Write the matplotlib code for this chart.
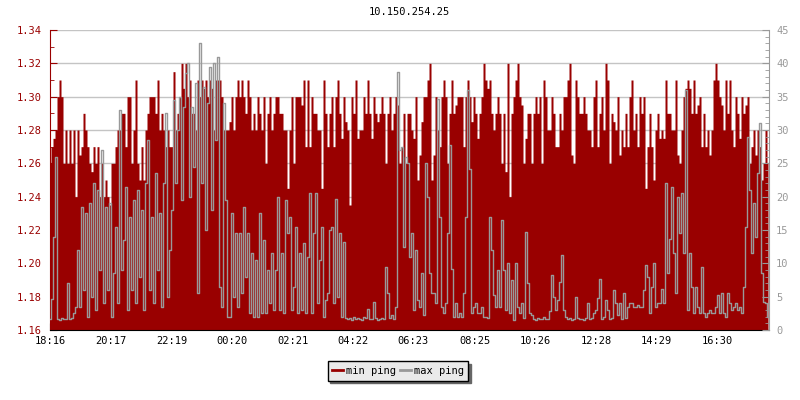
import matplotlib.pyplot as plt
from matplotlib.lines import Line2D
from matplotlib.ticker import MultipleLocator, FormatStrFormatter

RED = '#990000'
GREY = '#999999'
FONT = 'DejaVu Sans Mono'

title = '10.150.254.25'
start_time = '18:16'
step_minutes = 4
tick_labels = ['18:16', '20:17', '22:19', '00:20', '02:21', '04:22',
               '06:23', '08:25', '10:26', '12:28', '14:29', '16:30']
series_names = ['min ping', 'max ping']

# min ping (left axis), one sample every 4 minutes
min_ping = [
    1.26, 1.27, 1.275, 1.28, 1.30, 1.31, 1.30, 1.26, 1.28, 1.26,
    1.28, 1.26, 1.28, 1.24, 1.28, 1.265, 1.27, 1.29, 1.28, 1.27,
    1.26, 1.255, 1.27, 1.26, 1.27, 1.24, 1.26, 1.24, 1.25, 1.24,
    1.235, 1.26, 1.26, 1.27, 1.28, 1.28, 1.29, 1.29, 1.27, 1.30,
    1.30, 1.26, 1.28, 1.31, 1.26, 1.25, 1.27, 1.25, 1.28, 1.29,
    1.30, 1.30, 1.30, 1.29, 1.31, 1.28, 1.29, 1.28, 1.27, 1.28,
    1.27, 1.27, 1.315, 1.28, 1.29, 1.30, 1.32, 1.305, 1.32, 1.30,
    1.31, 1.29, 1.29, 1.28, 1.31, 1.30, 1.31, 1.305, 1.31, 1.30,
    1.31, 1.305, 1.28, 1.31, 1.31, 1.31, 1.30, 1.28, 1.28, 1.28,
    1.285, 1.30, 1.28, 1.30, 1.31, 1.30, 1.31, 1.30, 1.29, 1.31,
    1.30, 1.28, 1.29, 1.28, 1.30, 1.29, 1.28, 1.30, 1.26, 1.29,
    1.30, 1.28, 1.29, 1.30, 1.30, 1.29, 1.29, 1.28, 1.28, 1.245,
    1.28, 1.30, 1.26, 1.30, 1.30, 1.30, 1.295, 1.31, 1.27, 1.31,
    1.27, 1.30, 1.29, 1.29, 1.28, 1.28, 1.245, 1.31, 1.29, 1.27,
    1.29, 1.30, 1.27, 1.30, 1.31, 1.29, 1.275, 1.30, 1.285, 1.28,
    1.235, 1.30, 1.29, 1.31, 1.275, 1.28, 1.28, 1.30, 1.29, 1.31,
    1.29, 1.275, 1.30, 1.29, 1.285, 1.29, 1.30, 1.29, 1.26, 1.29,
    1.30, 1.28, 1.29, 1.30, 1.295, 1.26, 1.27, 1.29, 1.26, 1.29,
    1.29, 1.28, 1.275, 1.30, 1.25, 1.265, 1.285, 1.30, 1.30, 1.31,
    1.32, 1.25, 1.265, 1.30, 1.28, 1.27, 1.30, 1.31, 1.30, 1.26,
    1.29, 1.31, 1.29, 1.295, 1.30, 1.30, 1.30, 1.27, 1.30, 1.31,
    1.30, 1.285, 1.30, 1.29, 1.275, 1.29, 1.30, 1.32, 1.31, 1.305,
    1.31, 1.29, 1.28, 1.29, 1.30, 1.29, 1.26, 1.29, 1.255, 1.32,
    1.24, 1.29, 1.30, 1.31, 1.32, 1.30, 1.295, 1.26, 1.275, 1.29,
    1.29, 1.26, 1.29, 1.30, 1.29, 1.30, 1.26, 1.31, 1.30, 1.28,
    1.28, 1.30, 1.29, 1.27, 1.27, 1.29, 1.28, 1.30, 1.30, 1.31,
    1.32, 1.265, 1.26, 1.31, 1.30, 1.29, 1.29, 1.30, 1.29, 1.28,
    1.28, 1.27, 1.30, 1.31, 1.27, 1.29, 1.30, 1.28, 1.32, 1.31,
    1.26, 1.29, 1.285, 1.28, 1.30, 1.265, 1.28, 1.27, 1.29, 1.27,
    1.30, 1.31, 1.28, 1.29, 1.27, 1.30, 1.29, 1.30, 1.245, 1.27,
    1.29, 1.27, 1.25, 1.28, 1.29, 1.275, 1.28, 1.275, 1.31, 1.29,
    1.29, 1.28, 1.28, 1.31, 1.265, 1.26, 1.28, 1.30, 1.305, 1.31,
    1.305, 1.29, 1.31, 1.29, 1.295, 1.30, 1.27, 1.29, 1.27, 1.28,
    1.265, 1.28, 1.31, 1.32, 1.31, 1.30, 1.295, 1.28, 1.31, 1.29,
    1.31, 1.28, 1.27, 1.30, 1.29, 1.275, 1.30, 1.29, 1.295, 1.30,
    1.26, 1.27, 1.28, 1.265, 1.28, 1.27, 1.25, 1.26, 1.28, 1.26,
]

# max ping (right axis)
max_ping = [
    1.7, 4.7, 14, 26, 1.7, 1.5, 1.8, 1.6, 1.7, 7,
    1.6, 1.8, 2.5, 3.5, 12, 3.5, 18.5, 6, 17.5, 2,
    19, 5, 22, 3, 21, 9, 27, 4, 18.5, 6,
    19, 2, 8.5, 15.5, 4, 33, 9, 13.5, 21.5, 3,
    17, 6, 19.5, 4, 21, 8, 18, 3, 22, 28.5,
    6, 17, 4, 23.5, 9, 17.5, 3.5, 22, 32.5, 5,
    12, 18, 34.5, 22, 30, 35, 19.5, 33.5, 38.5, 40,
    20, 33.5, 24.5, 37, 5.5, 43, 22, 36.5, 15, 34,
    39.5, 18, 40, 28.5, 41, 6.5, 3.5, 34, 19.5, 2,
    2, 17.5, 5, 14.5, 3.5, 14.5, 5.5, 18.5, 8, 14.5,
    2.5, 11.5, 2, 10.5, 2, 17.5, 2.5, 13.5, 2.5, 9,
    4, 11.5, 3, 9, 20, 3, 11.5, 2.5, 19.5, 14.5,
    17, 3, 6.5, 15.5, 2.5, 11.5, 3, 13, 2.5, 11,
    20.5, 2.5, 14.5, 20.5, 4, 10.5, 15.5, 2, 4.5, 5.5,
    15, 15.5, 4, 19.6, 5, 14.5, 2, 13.2, 1.8, 1.6,
    1.8, 1.5, 1.9, 1.6, 1.8, 1.7, 1.5, 1.9, 1.8, 3.2,
    1.7, 1.6, 4.2, 1.8, 1.5, 1.7, 1.8, 1.6, 9.5, 5.5,
    1.8, 2.2, 1.6, 3.5, 38.7, 27, 27.5, 12.5, 26, 25,
    11, 14.5, 3, 12, 4.5, 3.5, 8.5, 2.3, 25, 20,
    8.5, 5.5, 5.5, 4, 34.7, 17, 3.5, 2.5, 4, 14.5,
    27.7, 9.2, 2, 4, 2, 2.5, 2, 5.5, 17, 36,
    24.2, 2.5, 3.5, 4, 2.5, 2.5, 3.5, 2, 2, 1.8,
    17, 12, 5.2, 3.5, 9, 3.5, 16.5, 9, 3, 10,
    2.5, 7.5, 1.5, 10, 3.5, 2.5, 4, 1.8, 14.7, 7,
    2.5, 2.2, 1.7, 1.5, 1.8, 1.6, 1.7, 1.9, 1.6, 1.7,
    2.8, 8.25, 5, 3, 4.5, 7.2, 11.2, 3, 2, 1.6,
    1.8, 1.5, 1.7, 5, 1.8, 1.6, 1.7, 1.5, 1.8, 4,
    1.6, 1.8, 2.5, 3, 4.8, 7.7, 1.7, 2, 4.5, 3,
    1.7, 1.8, 6, 4, 2.2, 4, 1.7, 5.5, 1.8, 3.5,
    4, 4, 3.5, 3.5, 3.7, 3.5, 3.5, 6, 9.7, 8,
    2.5, 6.5, 10, 3.5, 4, 4, 6.2, 4, 22, 8.5,
    13.7, 21.5, 11.5, 5.5, 20, 14.5, 20.5, 11.5, 36, 3,
    11.5, 6.5, 2.5, 6.5, 3.5, 2.5, 9.5, 2.5, 2, 2.5,
    3, 2.5, 2.5, 3.5, 5.2, 2.5, 5.5, 2.5, 2, 5.5,
    4, 3, 3.5, 4, 3, 3.5, 2.5, 6.5, 15.5, 29,
    21, 11.5, 19, 14, 23.5, 31, 8.5, 4.2, 4, 2,
]


def minutes_after_start(label):
    h, m = map(int, label.split(':'))
    h0, m0 = map(int, start_time.split(':'))
    return (h * 60 + m - h0 * 60 - m0) % 1440


t = [i * step_minutes for i in range(len(min_ping))]
tick_pos = [minutes_after_start(s) for s in tick_labels]

fig = plt.figure(figsize=(8, 4), dpi=100)
ax = fig.add_axes([0.0625, 0.175, 0.89875, 0.75])

# min ping drawn as a stepped filled area, so each sample is a thin bar
ax.fill_between(t, 1.16, min_ping, step='mid', color=RED, lw=0, zorder=2)
ax.set_xlim(0, 1438)
ax.set_ylim(1.16, 1.34)
ax.yaxis.set_major_locator(MultipleLocator(0.02))
ax.yaxis.set_minor_locator(MultipleLocator(0.01))
ax.yaxis.set_major_formatter(FormatStrFormatter('%.2f'))
ax.grid(axis='y', color='#c4c4c4', lw=1)
ax.set_axisbelow(True)
ax.set_xticks(tick_pos, tick_labels)

for side in ['top', 'right']:
    ax.spines[side].set_visible(False)
ax.spines['left'].set_color(RED)
ax.spines['bottom'].set_color('black')
ax.tick_params(axis='y', which='both', direction='in', colors=RED,
               labelsize=7.5, pad=6)
ax.tick_params(axis='y', which='major', length=5)
ax.tick_params(axis='y', which='minor', length=3)
ax.tick_params(axis='x', direction='in', length=5, colors='black',
               labelsize=7.5, pad=4)

ax2 = ax.twinx()
ax2.plot(t, max_ping, color=GREY, lw=1, drawstyle='steps-mid')
ax2.set_ylim(0, 45)
ax2.yaxis.set_major_locator(MultipleLocator(5))
ax2.yaxis.set_minor_locator(MultipleLocator(1))
for side in ['top', 'left', 'bottom']:
    ax2.spines[side].set_visible(False)
ax2.spines['right'].set_color(GREY)
ax2.tick_params(axis='y', which='both', direction='in', colors=GREY,
                labelsize=7.5, pad=5)
ax2.tick_params(axis='y', which='major', length=5)
ax2.tick_params(axis='y', which='minor', length=3)

for a in (ax, ax2):
    for lab in a.get_xticklabels() + a.get_yticklabels():
        lab.set_family(FONT)

fig.text(409.5 / 800, 1 - 12 / 400, title, ha='center', va='center',
         family=FONT, fontsize=7.5)

handles = [Line2D([], [], color=RED, lw=2), Line2D([], [], color=GREY, lw=2)]
leg = fig.legend(handles, series_names, loc='center',
                 bbox_to_anchor=(398 / 800, 1 - 371 / 400), ncol=2,
                 frameon=True, fancybox=False,
                 shadow={'color': '#666666', 'alpha': 1},
                 edgecolor='black', facecolor='#eaeaea', framealpha=1,
                 handlelength=1.0, handletextpad=0.3, columnspacing=0.4,
                 borderpad=0.45, prop={'family': FONT, 'size': 7.5})
leg.get_frame().set_linewidth(1.0)

fig.savefig('out.png', dpi=100)
